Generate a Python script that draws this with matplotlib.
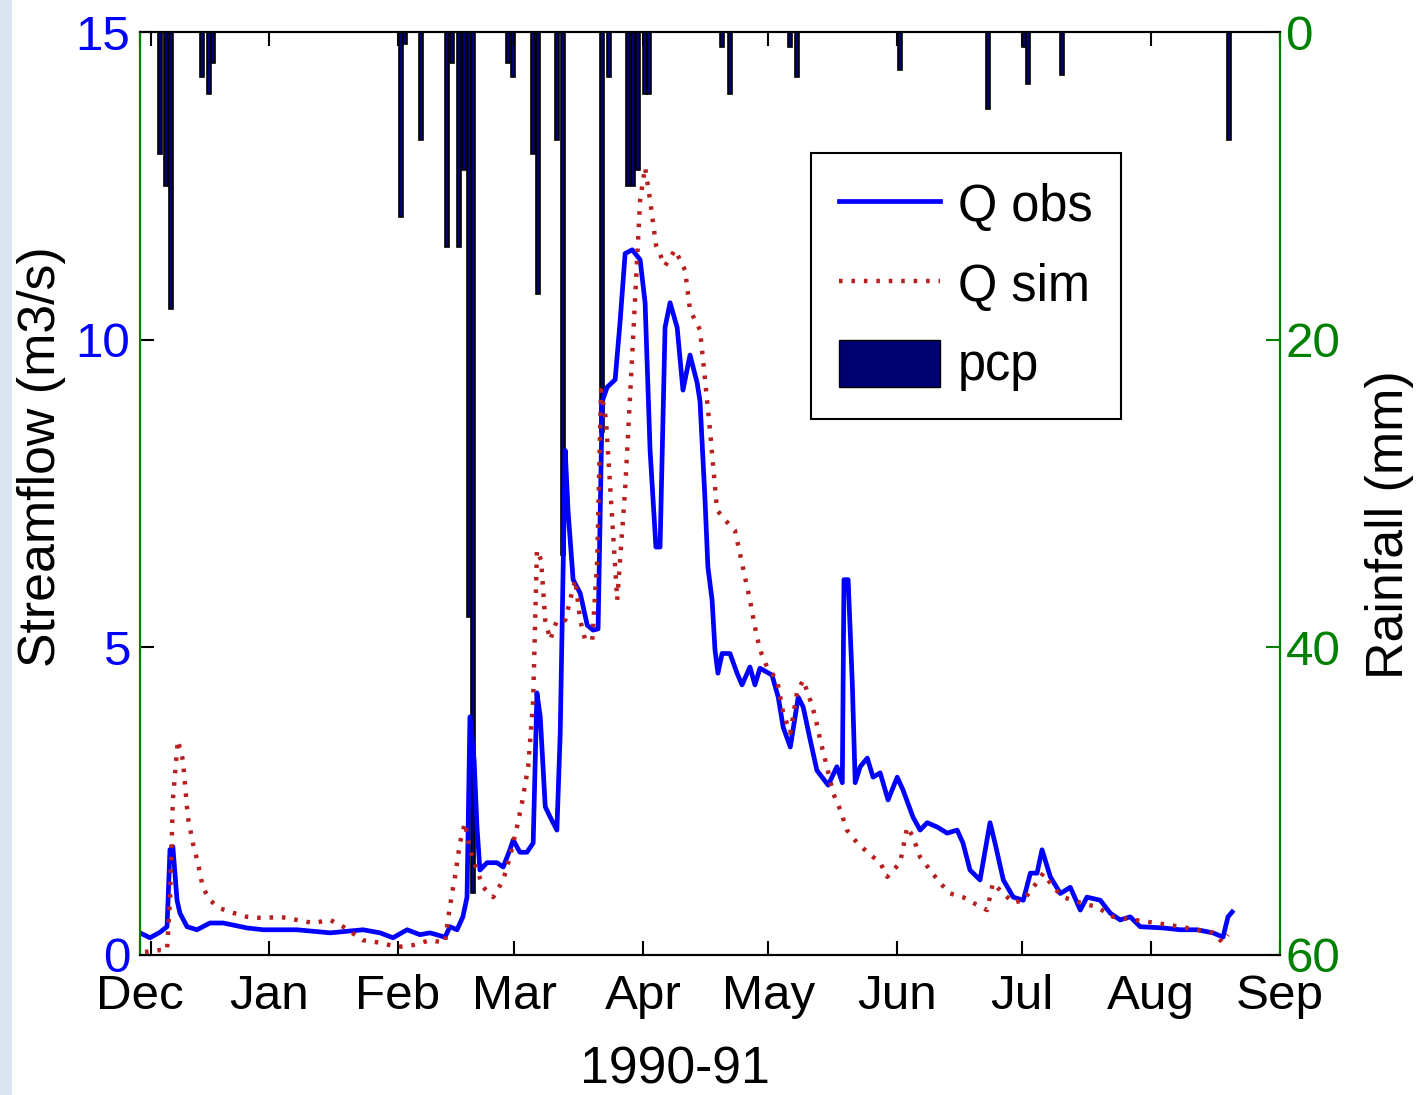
import matplotlib
matplotlib.use("Agg")
import matplotlib.pyplot as plt
from matplotlib.lines import Line2D
from matplotlib.patches import Patch, Rectangle

plt.rcParams['font.family'] = ['Liberation Sans', 'DejaVu Sans']

# x values are days since 1 Dec 1990
obs_day = [0, 2.4, 4.8, 6.5, 7.2, 7.9, 8.9, 9.6, 11.3, 13.7, 16.8, 20, 25.7, 29.6, 37.7,
           45.7, 53.6, 57.7, 60.8, 64.2, 67.3, 69.7, 73.3, 74.5, 76.2, 77.6, 78.6, 79.3,
           80.3, 81, 81.7, 83.4, 85.8, 87.3, 88.9, 89.7, 91.3, 93, 94.5, 95.4, 96.2, 97.4,
           98.6, 100.2, 101, 102.2, 102.9, 104.1, 105.8, 107.5, 108.9, 110.1, 111.1, 112.3,
           114.2, 115.4, 116.6, 118.3, 120.2, 121.4, 122.6, 124, 125, 126.2, 127.4, 129.1,
           130.5, 132.2, 133.9, 134.6, 135.8, 136.5, 137.5, 138.2, 138.9, 139.9, 141.8,
           143.5, 144.7, 146.6, 147.8, 149, 151.9, 153.4, 154.6, 156.3, 158.2, 159.4, 161.1,
           162.7, 165.4, 167.5, 168.8, 169.2, 170.2, 171.2, 171.9, 173.1, 174.8, 176.2,
           177.9, 179.8, 182, 183.4, 185.8, 187.5, 189.2, 191.6, 194, 196.4, 197.8, 199.5,
           201.9, 204.3, 205.5, 207.5, 209.9, 212.3, 214, 215.6, 216.8, 218.8, 221.2, 223.6,
           226, 227.6, 230.8, 233.2, 235.6, 238, 240.4, 245.9, 250, 254.1, 257.9, 260.3,
           261.5, 262.5]
obs_q = [0.36, 0.28, 0.37, 0.46, 1.71, 1.76, 0.89, 0.68, 0.46, 0.41, 0.52, 0.52, 0.44, 0.41,
         0.41, 0.36, 0.41, 0.36, 0.28, 0.41, 0.33, 0.36, 0.29, 0.46, 0.41, 0.62, 0.94, 3.87,
         3.17, 2.08, 1.38, 1.5, 1.5, 1.43, 1.71, 1.87, 1.67, 1.67, 1.82, 4.26, 3.87, 2.41,
         2.24, 2.03, 3.6, 8.2, 7.2, 6.1, 5.88, 5.36, 5.28, 5.3, 9.0, 9.23, 9.35, 10.3, 11.4,
         11.46, 11.3, 10.6, 8.2, 6.63, 6.63, 10.2, 10.6, 10.2, 9.18, 9.75, 9.3, 9.0, 7.4, 6.3,
         5.77, 4.96, 4.58, 4.9, 4.9, 4.58, 4.39, 4.68, 4.39, 4.66, 4.55, 4.19, 3.7, 3.38,
         4.19, 4.03, 3.49, 3.0, 2.76, 3.06, 2.8, 6.1, 6.1, 4.42, 2.8, 3.06, 3.2, 2.89, 2.96,
         2.52, 2.89, 2.68, 2.24, 2.03, 2.15, 2.08, 1.98, 2.03, 1.82, 1.38, 1.22, 2.15, 1.82,
         1.22, 0.94, 0.89, 1.33, 1.33, 1.71, 1.27, 1.0, 1.1, 0.73, 0.94, 0.89, 0.68, 0.57,
         0.62, 0.46, 0.44, 0.41, 0.41, 0.36, 0.29, 0.62, 0.7]

sim_day = [1.2, 4.8, 6.5, 7.2, 7.9, 9.1, 10.3, 11.5, 12.7, 13.9, 15.1, 16.8, 19.2, 21.6, 25.7,
           29.6, 33.7, 37.7, 41.6, 45.7, 48.8, 53.6, 57.7, 61.8, 65.6, 69.7, 73.3, 74, 75,
           75.7, 76.9, 78.1, 79.3, 81, 82.5, 84.9, 87.3, 88.9, 90.6, 91.8, 93.3, 94.5, 95.4,
           96.4, 97.4, 98.6, 100.2, 102.2, 103.4, 104.6, 105.8, 107, 108.7, 109.9, 110.8,
           112, 113.2, 114.7, 116.6, 118.5, 120.2, 121.4, 122.6, 124, 126.2, 128.6, 131,
           132.2, 134.6, 135.8, 137, 138.7, 140.6, 143, 144.9, 146.6, 147.8, 149, 150.7,
           153.1, 154.6, 156.3, 157.9, 159.4, 161.1, 162.3, 163.5, 165.1, 166.6, 168.3,
           169.9, 172.4, 175.5, 177.9, 179.6, 182.7, 184.4, 185.8, 187.5, 189.9, 192.3,
           194.7, 197.8, 200.2, 203.6, 205, 207.5, 209.9, 212.3, 214.7, 217.1, 219.5, 221.9,
           226, 230, 233.9, 242.1, 250, 257.9, 260.1, 261.5]
sim_q = [0.05, 0.08, 0.08, 0.89, 2.52, 3.49, 3.17, 2.24, 1.82, 1.5, 1.1, 0.89, 0.76, 0.7,
         0.62, 0.6, 0.62, 0.57, 0.52, 0.57, 0.46, 0.24, 0.2, 0.13, 0.16, 0.24, 0.2, 0.57, 1.0,
         1.27, 1.82, 2.15, 1.71, 1.38, 1.1, 0.94, 1.22, 1.59, 2.08, 2.47, 3.06, 4.14, 6.58,
         6.42, 5.44, 5.12, 5.44, 5.44, 5.77, 6.1, 5.44, 5.12, 5.12, 6.42, 9.18, 8.7, 7.4,
         5.77, 7.56, 10.0, 12.27, 12.8, 12.27, 11.54, 11.2, 11.46, 11.13, 10.48, 10.16,
         9.35, 8.53, 7.23, 7.07, 6.9, 6.3, 5.77, 5.33, 4.96, 4.68, 4.47, 3.93, 3.61, 4.26,
         4.47, 4.14, 3.87, 3.49, 3.06, 2.63, 2.36, 2.03, 1.82, 1.63, 1.5, 1.27, 1.5, 2.08,
         1.92, 1.59, 1.38, 1.17, 1.0, 0.94, 0.85, 0.73, 1.17, 1.0, 0.85, 0.89, 1.1, 1.33,
         1.1, 0.94, 0.85, 0.78, 0.62, 0.54, 0.46, 0.36, 0.21, 0.33]

rain_day = [4.8, 6.3, 7.5, 14.9, 16.6, 17.5, 62.7, 63.7, 67.5, 73.8, 75, 76.7, 77.9, 79.1,
            80, 88.5, 89.7, 94.5, 95.7, 100.2, 101.7, 111, 112.7, 117.3, 118.5, 119.7, 121.4,
            122.4, 139.9, 141.8, 156.3, 157.9, 182.7, 203.8, 212.5, 213.5, 221.6, 261.8]
rain_mm = [7.9, 10, 18, 2.9, 4, 2, 12, 0.8, 7, 14, 2, 14, 9, 38, 56, 2, 2.9, 7.9, 17, 7, 34,
           26, 2.9, 10, 10, 9, 4, 4, 1, 4, 1, 2.9, 2.5, 5, 1, 3.4, 2.8, 7]

months = ['Dec', 'Jan', 'Feb', 'Mar', 'Apr', 'May', 'Jun', 'Jul', 'Aug', 'Sep']
month_day = [0, 31, 62, 90, 121, 151, 182, 212, 243, 274]

blue = '#0000ff'
green = '#008000'
red = '#b82020'
navy = '#000070'
dots = (0, (0.8, 2.0))

fig = plt.figure(figsize=(14.18, 10.95), dpi=100)
fig.add_artist(Rectangle((0, 0), 12 / 1418, 1, transform=fig.transFigure,
                         facecolor='#dbe4f1', edgecolor='none'))

ax1 = fig.add_axes([140 / 1418, 1 - 955 / 1095, 1140 / 1418, 923 / 1095])
ax2 = ax1.twinx()

ax2.bar(rain_day, rain_mm, width=0.9, color=navy, edgecolor='black', linewidth=1.2)
ax2.set_ylim(60, 0)
ax2.set_yticks([0, 20, 40, 60])
ax2.tick_params(axis='y', direction='in', length=10, width=1.5, color=green,
                labelcolor=green, labelsize=35.6, pad=4)

ax1.set_zorder(ax2.get_zorder() + 1)
ax1.patch.set_visible(False)
ax1.plot(obs_day, obs_q, color=blue, lw=3.4)
ax1.plot(sim_day, sim_q, color=red, lw=3.2, ls=dots, dash_capstyle='butt')

ax1.set_xlim(0, 274)
ax1.set_ylim(0, 15)
ax1.set_yticks([0, 5, 10, 15])
ax1.set_xticks(month_day)
ax1.set_xticklabels(months)
ax1.set_xticks([2.6], minor=True)
ax1.tick_params(axis='y', direction='in', length=10, width=1.5, labelcolor=blue,
                labelsize=35.6, pad=7)
ax1.tick_params(axis='x', which='both', direction='in', length=10, width=1.5, top=True,
                labelsize=35.6, pad=14)

for ax in (ax1, ax2):
    for side in ('left', 'right'):
        ax.spines[side].set_color(green)
    for side in ('top', 'bottom'):
        ax.spines[side].set_color('black')
    for s in ax.spines.values():
        s.set_linewidth(1.5)

fig.text(42 / 1418, 1 - 457 / 1095, 'Streamflow (m3/s)', rotation=90, ha='center',
         va='center', fontsize=37.4)
fig.text(1390 / 1418, 1 - 525 / 1095, 'Rainfall (mm)', rotation=90, ha='center',
         va='center', fontsize=37.4)
fig.text(675 / 1418, 1 - 1070 / 1095, '1990-91', ha='center', va='center', fontsize=37.4)

handles = [Line2D([], [], color=blue, lw=3.4),
           Line2D([], [], color=red, lw=3.2, ls=dots, dash_capstyle='butt'),
           Patch(facecolor=navy, edgecolor='black')]
leg = ax1.legend(handles, ['Q obs', 'Q sim', 'pcp'], loc='upper left',
                 bbox_to_anchor=(0.589, 0.869), fontsize=36.4, frameon=True,
                 fancybox=False, edgecolor='black', framealpha=1, handlelength=2.0,
                 handleheight=1.05, labelspacing=0.55, borderpad=0.55,
                 handletextpad=0.35, borderaxespad=0)
leg.get_frame().set_linewidth(1.5)

fig.savefig('out.png', dpi=100)
